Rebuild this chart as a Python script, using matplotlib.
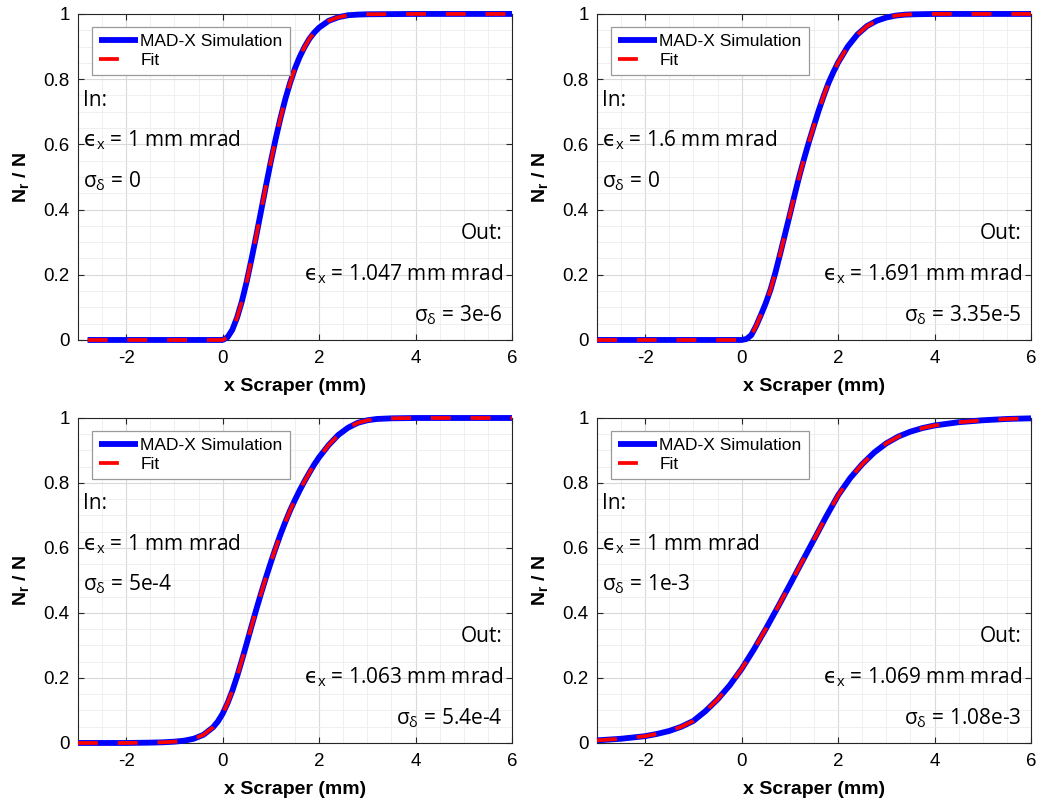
import matplotlib
matplotlib.use("Agg")
import matplotlib.pyplot as plt
from matplotlib.ticker import MultipleLocator

# ---- data (x in mm, y = Nr/N) ----
x_a = [-2.8, -2.0, -1.0, 0.0, 0.1, 0.2, 0.3, 0.4, 0.5, 0.6, 0.7, 0.8, 0.9, 1.0,
       1.1, 1.2, 1.3, 1.4, 1.5, 1.6, 1.7, 1.8, 1.9, 2.0, 2.2, 2.4, 2.6, 2.8,
       3.0, 4.0, 5.0, 6.0]
sim_a = [0.0, 0.0, 0.0, 0.0, 0.008, 0.031, 0.069, 0.119, 0.180, 0.249, 0.322,
         0.398, 0.474, 0.548, 0.617, 0.681, 0.739, 0.789, 0.833, 0.869, 0.899,
         0.924, 0.943, 0.958, 0.979, 0.990, 0.996, 0.998, 0.999, 1.0, 1.0, 1.0]
fit_a = sim_a

x_b = [-3.0, -2.0, -1.0, 0.0, 0.1, 0.2, 0.3, 0.4, 0.5, 0.6, 0.7, 0.8, 0.9, 1.0,
       1.1, 1.2, 1.3, 1.4, 1.5, 1.6, 1.7, 1.8, 1.9, 2.0, 2.2, 2.4, 2.6, 2.8,
       3.0, 3.2, 3.4, 3.6, 4.0, 5.0, 6.0]
sim_b = [0.0, 0.0, 0.0, 0.0, 0.003, 0.015, 0.043, 0.077, 0.113, 0.155, 0.207,
         0.265, 0.325, 0.385, 0.446, 0.505, 0.559, 0.610, 0.658, 0.705, 0.748,
         0.788, 0.821, 0.851, 0.900, 0.937, 0.963, 0.979, 0.989, 0.995, 0.998,
         0.999, 1.0, 1.0, 1.0]
fit_b = sim_b

x_c = [-3.0, -2.0, -1.5, -1.25, -1.0, -0.8, -0.6, -0.4, -0.2, -0.1, 0.0, 0.1,
       0.2, 0.3, 0.4, 0.5, 0.6, 0.7, 0.8, 0.9, 1.0, 1.1, 1.2, 1.3, 1.4, 1.5,
       1.6, 1.7, 1.8, 1.9, 2.0, 2.2, 2.4, 2.6, 2.8, 3.0, 3.2, 3.5, 4.0, 5.0,
       6.0]
sim_c = [0.0, 0.0, 0.001, 0.002, 0.004, 0.007, 0.013, 0.025, 0.048, 0.066,
         0.090, 0.122, 0.160, 0.205, 0.255, 0.307, 0.360, 0.412, 0.462, 0.510,
         0.556, 0.600, 0.642, 0.680, 0.716, 0.748, 0.778, 0.806, 0.832, 0.857,
         0.879, 0.917, 0.948, 0.970, 0.985, 0.993, 0.997, 0.999, 1.0, 1.0, 1.0]
fit_c = sim_c

x_d = [-3.0, -2.5, -2.0, -1.75, -1.5, -1.25, -1.0, -0.75, -0.5, -0.25, 0.0,
       0.25, 0.5, 0.75, 1.0, 1.25, 1.5, 1.75, 2.0, 2.25, 2.5, 2.75, 3.0, 3.25,
       3.5, 3.75, 4.0, 4.5, 5.0, 5.5, 6.0]
sim_d = [0.008, 0.013, 0.021, 0.028, 0.037, 0.050, 0.068, 0.098, 0.134, 0.177,
         0.228, 0.287, 0.351, 0.418, 0.487, 0.557, 0.626, 0.696, 0.762, 0.815,
         0.858, 0.894, 0.922, 0.943, 0.958, 0.969, 0.977, 0.987, 0.993, 0.997,
         0.999]
fit_d = sim_d

in_text = [("1", "0"), ("1.6", "0"), ("1", "5e-4"), ("1", "1e-3")]
out_text = [("1.047", "3e-6"), ("1.691", "3.35e-5"),
            ("1.063", "5.4e-4"), ("1.069", "1.08e-3")]

panels = [(x_a, sim_a, fit_a), (x_b, sim_b, fit_b),
          (x_c, sim_c, fit_c), (x_d, sim_d, fit_d)]

plt.rcParams.update({
    "font.family": ["Liberation Sans", "DejaVu Sans"],
    "axes.unicode_minus": False,
    "axes.edgecolor": "#262626",
    "axes.linewidth": 0.8,
    "xtick.direction": "in",
    "ytick.direction": "in",
    "xtick.top": True,
    "ytick.right": True,
    "xtick.major.size": 4,
    "ytick.major.size": 4,
    "xtick.minor.size": 0,
    "ytick.minor.size": 0,
    "xtick.color": "#262626",
    "ytick.color": "#262626",
    "xtick.labelcolor": "black",
    "ytick.labelcolor": "black",
    "xtick.labelsize": 13.5,
    "ytick.labelsize": 13.5,
})

TXT_FONT = ["Open Sans", "DejaVu Sans"]
TXT_SIZE = 15
EPS = r"$\mathrm{ϵ}_\mathregular{x}$"
SIG = r"σ$_\mathregular{δ}$"

fig = plt.figure(figsize=(10.37, 8.06), dpi=100)
positions = [
    (0.0752, 0.5782, 0.4185, 0.4045),
    (0.5757, 0.5782, 0.4185, 0.4045),
    (0.0752, 0.0782, 0.4185, 0.4032),
    (0.5757, 0.0782, 0.4185, 0.4032),
]

for i, (xs, sim, fit) in enumerate(panels):
    ax = fig.add_axes(positions[i])
    ax.set_axisbelow(True)
    ax.plot(xs, sim, color="#0000ff", lw=4.2, solid_capstyle="butt",
            label="MAD-X Simulation", clip_on=False, zorder=3)
    ax.plot(xs, fit, color="#ff0000", lw=2.7, dashes=(5.3, 5.3),
            dash_capstyle="butt", label="Fit", clip_on=False, zorder=4)

    ax.set_xlim(-3, 6)
    ax.set_ylim(0, 1)
    ax.xaxis.set_major_locator(MultipleLocator(2))
    ax.xaxis.set_minor_locator(MultipleLocator(0.5))
    ax.yaxis.set_minor_locator(MultipleLocator(0.05))
    ax.set_yticks([0, 0.2, 0.4, 0.6, 0.8, 1.0])
    ax.set_yticklabels(["0", "0.2", "0.4", "0.6", "0.8", "1"])
    ax.grid(which="major", color="#d9d9d9", lw=0.8)
    ax.grid(which="minor", color="#ececec", lw=0.6)
    ax.tick_params(axis="x", pad=7)
    ax.tick_params(axis="y", pad=6)

    ax.set_xlabel("x Scraper (mm)", fontsize=14, fontweight="bold",
                  labelpad=8)
    ax.set_ylabel(r"N$_\mathregular{r}$ / N", fontsize=14,
                  fontweight="bold", labelpad=8)

    leg = ax.legend(loc="upper left", bbox_to_anchor=(0.032, 0.960),
                    borderaxespad=0, fontsize=12.5, frameon=True,
                    fancybox=False, edgecolor="#9a9a9a", framealpha=1,
                    borderpad=0.4, labelspacing=0.2, handlelength=2.25,
                    handletextpad=0.15)
    leg.get_frame().set_linewidth(0.9)

    e_in, s_in = in_text[i]
    e_out, s_out = out_text[i]
    kw = dict(transform=ax.transAxes, fontsize=TXT_SIZE, family=TXT_FONT,
              va="center")
    ax.text(0.012, 0.736, "In:", ha="left", **kw)
    ax.text(0.012, 0.613, EPS + " = " + e_in + " mm mrad", ha="left", **kw)
    ax.text(0.012, 0.488, SIG + " = " + s_in, ha="left", **kw)
    ax.text(0.979, 0.328, "Out:", ha="right", **kw)
    ax.text(0.979, 0.202, EPS + " = " + e_out + " mm mrad", ha="right", **kw)
    ax.text(0.979, 0.077, SIG + " = " + s_out, ha="right", **kw)

fig.savefig("out.png", dpi=100, facecolor="white")
